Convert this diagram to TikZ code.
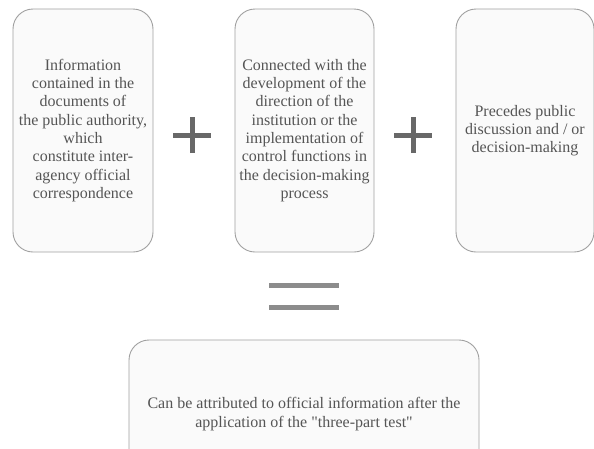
\documentclass[tikz,border=0pt]{standalone}
\usepackage{fontspec}
\setmainfont{Liberation Serif}[Ligatures=TeXOff]
\definecolor{boxline}{HTML}{A0A0A0}
\definecolor{boxfill}{HTML}{FAFAFA}
\definecolor{txt}{HTML}{555555}
\definecolor{plusc}{HTML}{686868}
\definecolor{eqc}{HTML}{8C8C8C}
\tikzset{
  card/.style={draw=boxline, line width=0.9pt, fill=boxfill, rounded corners=20pt,
    text=txt, align=center, inner sep=0pt,
    font=\fontsize{16}{18.3}\selectfont},
  sign/.style={draw=plusc, line width=5pt},
  eqbar/.style={draw=eqc, line width=5pt}
}
\begin{document}
\begin{tikzpicture}[x=1pt,y=-1pt]
\useasboundingbox (0,0) rectangle (594,448);
\clip (0,0) rectangle (594,448);
\node[card, minimum width=140pt, minimum height=243pt] (b1) at (83,130.5)
  {Information\\contained in the\\documents of\\the public authority,\\which\\constitute inter-\\agency official\\correspondence};
\node[card, minimum width=139pt, minimum height=243pt] (b2) at (304.5,130.5)
  {Connected with the\\development of the\\direction of the\\institution or the\\implementation of\\control functions in\\the decision-making\\process};
\node[card, minimum width=138pt, minimum height=243pt] (b3) at (525,130.5)
  {Precedes public\\discussion and / or\\decision-making};
\node[card, minimum width=350pt, minimum height=148pt] (b4) at (304,414)
  {Can be attributed to official information after the\\application of the "three-part test"};
\coordinate (p1) at (192,135);
\coordinate (p2) at (413,135);
\coordinate (eq) at (304,296);
\draw[sign] ([xshift=-19pt]p1) -- ([xshift=19pt]p1);
\draw[sign] ([yshift=-18pt]p1) -- ([yshift=18pt]p1);
\draw[sign] ([xshift=-19pt]p2) -- ([xshift=19pt]p2);
\draw[sign] ([yshift=-18pt]p2) -- ([yshift=18pt]p2);
\draw[eqbar] ([xshift=-35pt,yshift=-11pt]eq) -- ([xshift=35pt,yshift=-11pt]eq);
\draw[eqbar] ([xshift=-35pt,yshift=11pt]eq) -- ([xshift=35pt,yshift=11pt]eq);
\end{tikzpicture}
\end{document}
